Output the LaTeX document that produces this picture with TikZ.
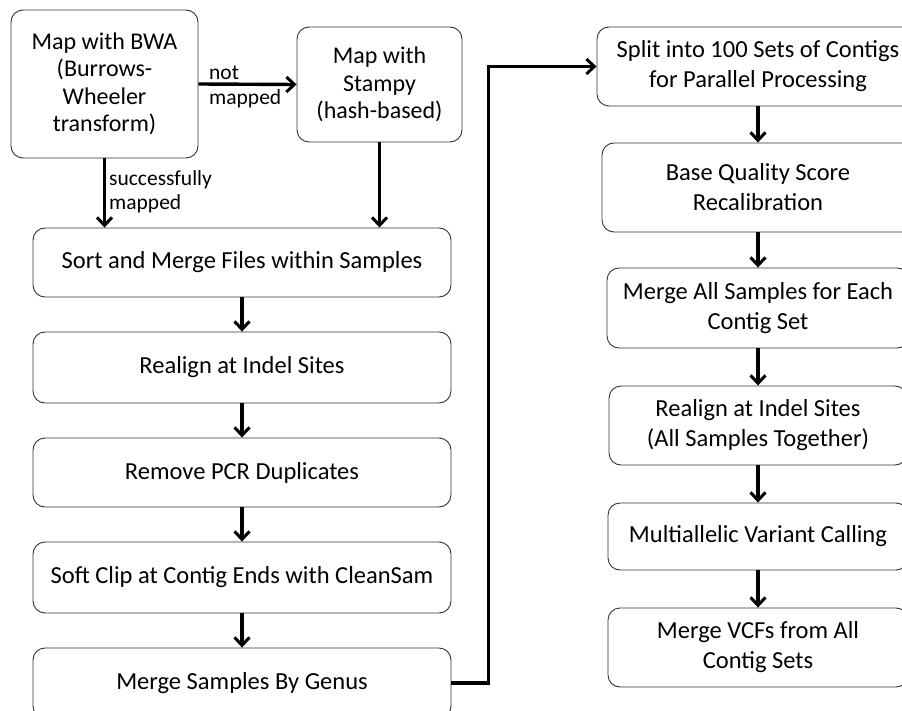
\documentclass[tikz,border=0pt]{standalone}
\usepackage{fontspec}
\setmainfont{Carlito}
\usetikzlibrary{arrows.meta}
\tikzset{
  box/.style={draw=black!80, line width=0.9pt, rounded corners=12pt, fill=white,
    align=center, inner sep=2pt, font=\fontsize{24.5}{30}\selectfont},
  bigbox/.style={box, font=\fontsize{24}{27.5}\selectfont},
  arr/.style={draw=black, line width=3.4pt,
    -{Straight Barb[length=8pt,width=15pt,line width=3pt]}},
  lbl/.style={anchor=west, align=left, inner sep=0pt, font=\fontsize{21.5}{24.5}\selectfont}
}
\begin{document}
\begin{tikzpicture}[x=1pt,y=-1pt]
\useasboundingbox (0,0) rectangle (902,711);
\clip (0,0) rectangle (902,711);
% left column
\node[bigbox, minimum width=187pt, minimum height=148pt] (bwa) at (104.5,84)
  {Map with BWA\\(Burrows-\\Wheeler\\transform)};
\node[bigbox, minimum width=165pt, minimum height=115pt] (stampy) at (379.5,84.5)
  {Map with\\Stampy\\(hash-based)};
\node[box, minimum width=418pt, minimum height=69pt] (sort) at (242,262.5)
  {Sort and Merge Files within Samples};
\node[box, minimum width=418pt, minimum height=71pt] (realign) at (242,367.5)
  {Realign at Indel Sites};
\node[box, minimum width=418pt, minimum height=69pt] (pcr) at (242,472.5)
  {Remove PCR Duplicates};
\node[box, minimum width=418pt, minimum height=71pt] (soft) at (242,577.5)
  {Soft Clip at Contig Ends with CleanSam};
\node[box, minimum width=418pt, minimum height=70pt] (genus) at (242,683)
  {Merge Samples By Genus};
% right column
\node[box, minimum width=322pt, minimum height=79pt] (split) at (758,66.5)
  {Split into 100 Sets of Contigs\\for Parallel Processing};
\node[box, minimum width=312pt, minimum height=89pt] (base) at (758,187.5)
  {Base Quality Score\\Recalibration};
\node[box, minimum width=302pt, minimum height=80pt] (mergeall) at (758,308)
  {Merge All Samples for Each\\Contig Set};
\node[box, minimum width=298pt, minimum height=79pt] (realign2) at (758,425.5)
  {Realign at Indel Sites\\(All Samples Together)};
\node[box, minimum width=300pt, minimum height=67pt] (multi) at (758,536.5)
  {Multiallelic Variant Calling};
\node[box, minimum width=300pt, minimum height=79pt] (vcf) at (758,647.5)
  {Merge VCFs from All\\Contig Sets};
% connectors
\draw[arr] (bwa.east) -- (stampy.west);
\node[lbl] (notmapped) at (209,87) {not\\mapped};
\draw[arr] (bwa.south) -- (bwa.south |- sort.north);
\node[lbl] (okmapped) at (109,192) {successfully\\mapped};
\draw[arr] (stampy.south) -- (stampy.south |- sort.north);
\draw[arr] (sort) -- (realign);
\draw[arr] (realign) -- (pcr);
\draw[arr] (pcr) -- (soft);
\draw[arr] (soft) -- (genus);
\draw[arr] (genus.east) -- ++(37,0) |- (split.west);
\draw[arr] (split) -- (base);
\draw[arr] (base) -- (mergeall);
\draw[arr] (mergeall) -- (realign2);
\draw[arr] (realign2) -- (multi);
\draw[arr] (multi) -- (vcf);
\end{tikzpicture}
\end{document}
